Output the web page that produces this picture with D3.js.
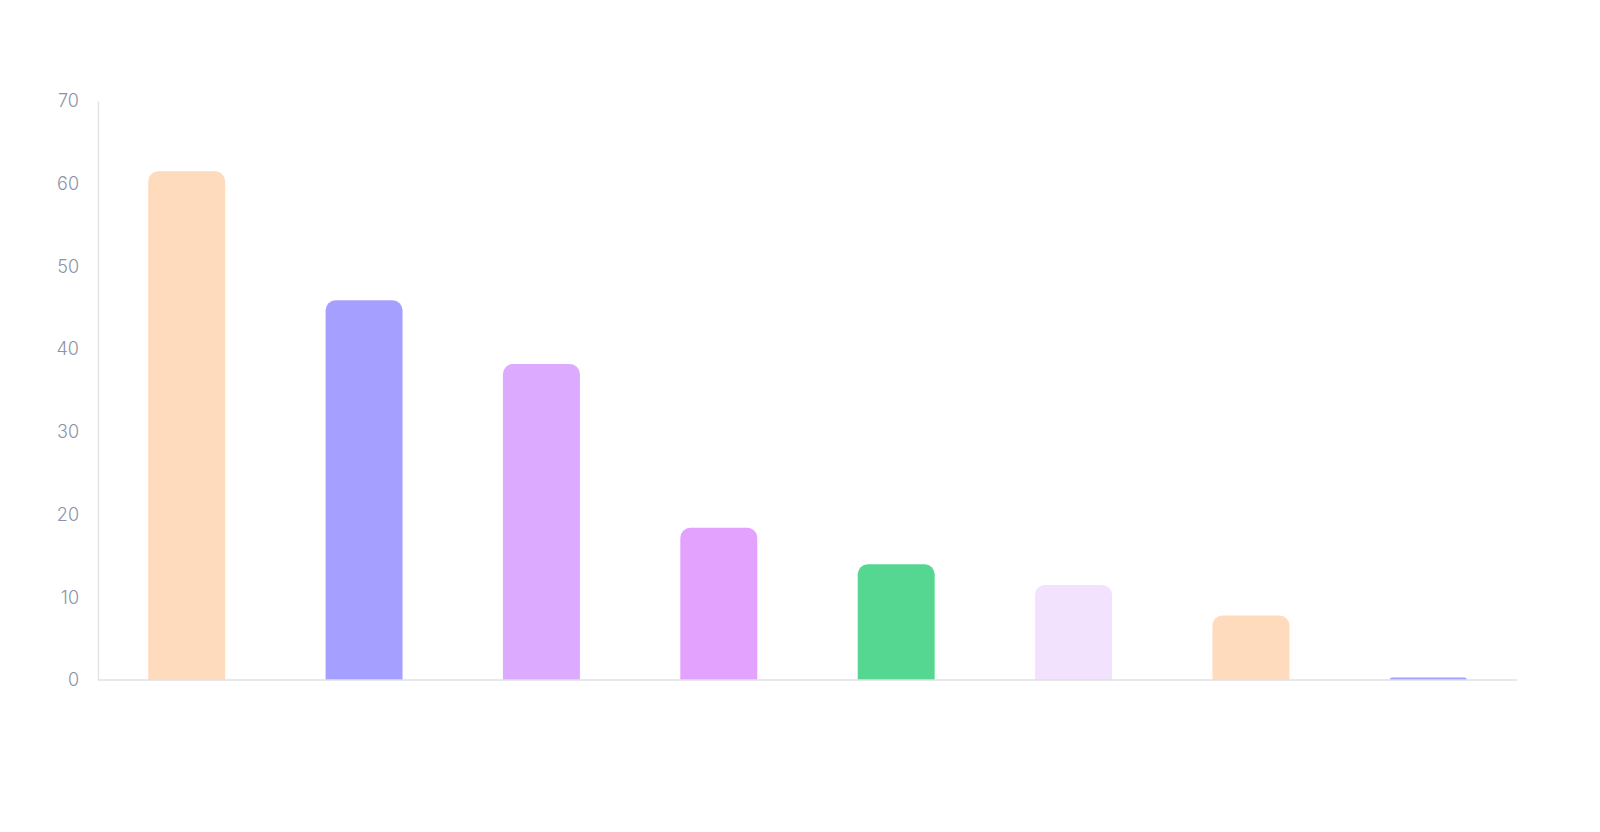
<!DOCTYPE html>
<html>
<head>
<meta charset="utf-8">
<script src="https://cdn.jsdelivr.net/npm/d3@7"></script>
<style>
  html, body { margin: 0; padding: 0; background: #fff; }
  svg { display: block; }
</style>
</head>
<body>
<svg id="chart"></svg>
<script>
'use strict';

const WIDTH = 1600;
const HEIGHT = 832;
const MARGIN = { top: 101, right: 83, bottom: 152, left: 98 };

// chart data
const categories = ['c1', 'c2', 'c3', 'c4', 'c5', 'c6', 'c7', 'c8'];
const values = [61.5, 45.9, 38.2, 18.4, 14.0, 11.5, 7.8, 0.3];
const barColors = ['#FEDBBC', '#A5A0FF', '#DCAAFE', '#E2A2FE', '#56D791', '#F2E2FE', '#FEDBBC', '#A5A0FF'];
const yTicks = [0, 10, 20, 30, 40, 50, 60, 70];

const innerW = WIDTH - MARGIN.left - MARGIN.right;
const innerH = HEIGHT - MARGIN.top - MARGIN.bottom;

const x = d3.scaleBand()
  .domain(categories)
  .range([0, innerW])
  .paddingInner(0.566)
  .paddingOuter(0.283);

const y = d3.scaleLinear()
  .domain([0, 70])
  .range([innerH, 0]);

const svg = d3.select('#chart')
  .attr('width', WIDTH)
  .attr('height', HEIGHT)
  .attr('viewBox', `0 0 ${WIDTH} ${HEIGHT}`);

const g = svg.append('g').attr('transform', `translate(${MARGIN.left},${MARGIN.top})`);

// rounded-top bar path (arc corners)
function topRounded(x0, y0, w, h, r) {
  const rr = Math.min(r, h, w / 2);
  return `M${x0},${y0 + h}` +
    `V${y0 + rr}` +
    `A${rr},${rr} 0 0 1 ${x0 + rr},${y0}` +
    `H${x0 + w - rr}` +
    `A${rr},${rr} 0 0 1 ${x0 + w},${y0 + rr}` +
    `V${y0 + h}Z`;
}

const bars = g.append('g').attr('class', 'bars');
categories.forEach((c, i) => {
  const bx = x(c);
  const by = y(values[i]);
  const bh = y(0) - by;
  bars.append('path')
    .attr('d', topRounded(bx, by, x.bandwidth(), bh, 10))
    .attr('fill', barColors[i]);
});

// y axis
const yAxis = g.append('g')
  .call(d3.axisLeft(y).tickValues(yTicks).tickSize(0).tickPadding(19));
yAxis.select('.domain').attr('stroke', '#dfe1e6').attr('stroke-width', 1.3);
yAxis.selectAll('text')
  .attr('fill', '#8a94a6')
  .attr('font-family', 'Inter, "Noto Sans", sans-serif')
  .attr('font-weight', 300)
  .attr('font-size', 18);

// x baseline
g.append('line')
  .attr('x1', 0).attr('x2', innerW)
  .attr('y1', y(0)).attr('y2', y(0))
  .attr('stroke', '#dfe1e6').attr('stroke-width', 1.3);
</script>
</body>
</html>
